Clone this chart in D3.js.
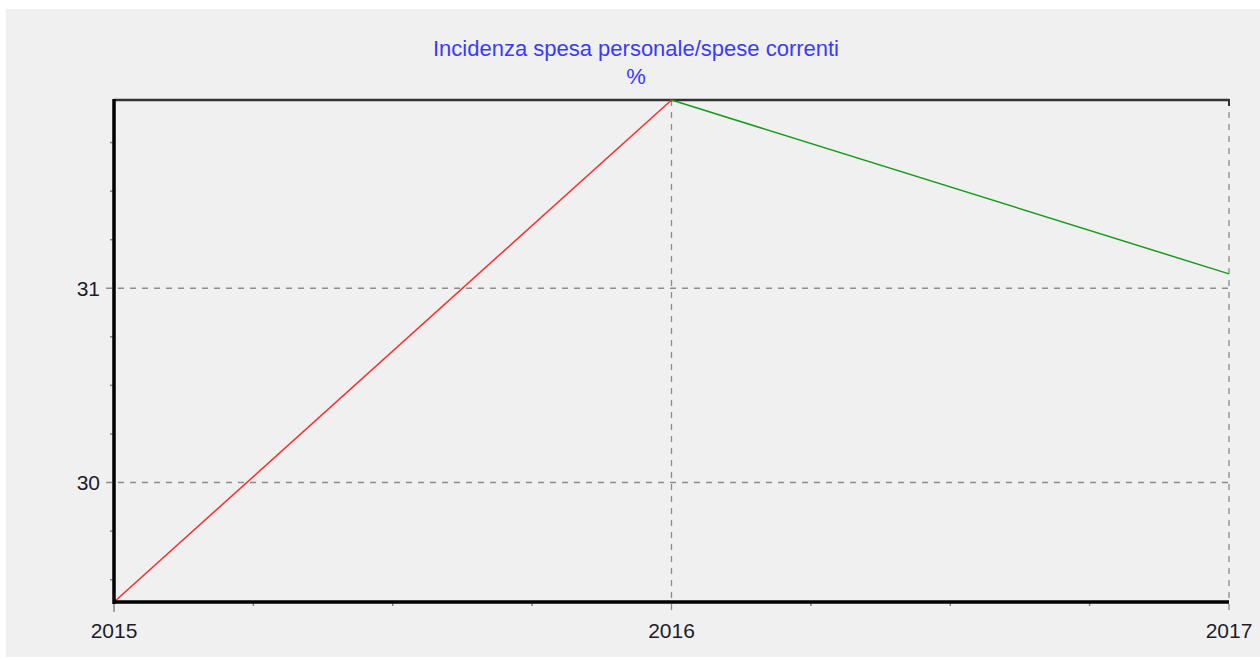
<!DOCTYPE html>
<html>
<head>
<meta charset="utf-8">
<script src="https://cdn.jsdelivr.net/npm/d3@7"></script>
<style>
  body { margin: 0; background: #fff; }
  svg { display: block; font-family: "Liberation Sans", Arial, sans-serif; }
</style>
</head>
<body>
<div class="canvas"></div>
<script>
// data
const years = [2015, 2016, 2017]
const values = [29.385, 31.969, 31.074]
const yTicks = [30, 31]
const titleLines = ['Incidenza spesa personale/spese correnti', '%']

// 1 - dimensions
const dims = { width: 1260, height: 659 }
const plot = { left: 114, right: 1229, top: 100, bottom: 602 }

const svg = d3.select('.canvas')
    .append('svg')
    .attr('width', dims.width)
    .attr('height', dims.height)

// gray panel
svg.append('rect')
    .attr('x', 6).attr('y', 9)
    .attr('width', dims.width - 6).attr('height', 648)
    .attr('fill', '#f0f0f0')

// 2 - scales
const x = d3.scaleLinear()
    .domain(d3.extent(years))
    .range([plot.left, plot.right])

const y = d3.scaleLinear()
    .domain(d3.extent(values))
    .range([plot.bottom, plot.top])

// 3 - grid lines
const grid = svg.append('g')
    .attr('stroke', '#8c8c8c')
    .attr('stroke-width', 1.3)
    .attr('stroke-dasharray', '6,6')

grid.selectAll('line.h')
    .data(yTicks)
    .enter().append('line')
    .attr('class', 'h')
    .attr('x1', plot.left - 8).attr('x2', plot.right)
    .attr('y1', d => y(d)).attr('y2', d => y(d))

grid.selectAll('line.v')
    .data(years.slice(1))
    .enter().append('line')
    .attr('class', 'v')
    .attr('y1', plot.top).attr('y2', plot.bottom + 10)
    .attr('x1', d => x(d)).attr('x2', d => x(d))

// minor ticks
const minorY = d3.range(Math.ceil(y.domain()[0] * 4), Math.floor(y.domain()[1] * 4) + 1)
    .map(d => d / 4).filter(d => !yTicks.includes(d))
svg.selectAll('line.my')
    .data(minorY)
    .enter().append('line')
    .attr('x1', plot.left - 4).attr('x2', plot.left)
    .attr('y1', d => y(d)).attr('y2', d => y(d))
    .attr('stroke', '#888').attr('stroke-width', 1.5)

const minorX = d3.range(years[0] * 4, years[years.length - 1] * 4 + 1)
    .map(d => d / 4).filter(d => !years.includes(d))
svg.selectAll('line.mx')
    .data(minorX)
    .enter().append('line')
    .attr('x1', d => x(d)).attr('x2', d => x(d))
    .attr('y1', plot.bottom).attr('y2', plot.bottom + 4)
    .attr('stroke', '#888').attr('stroke-width', 1.5)

// first year tick (solid, under the y axis)
svg.append('line')
    .attr('x1', x(years[0])).attr('x2', x(years[0]))
    .attr('y1', plot.bottom).attr('y2', plot.bottom + 10)
    .attr('stroke', '#888').attr('stroke-width', 1.5)

// 4 - frame
svg.append('line')
    .attr('x1', plot.left).attr('x2', plot.right)
    .attr('y1', plot.top).attr('y2', plot.top)
    .attr('stroke', '#333').attr('stroke-width', 2.5)
svg.append('line')
    .attr('x1', plot.right).attr('x2', plot.right)
    .attr('y1', plot.top - 1).attr('y2', plot.top + 6)
    .attr('stroke', '#333').attr('stroke-width', 2)

// 5 - lines, one segment per year step
const colors = ['#ff2a2a', '#179c17']
const segs = d3.pairs(years.map((yr, i) => ({ yr, v: values[i] })))
const line = d3.line().x(d => x(d.yr)).y(d => y(d.v))

svg.selectAll('path.seg')
    .data(segs)
    .enter().append('path')
    .attr('class', 'seg')
    .attr('d', line)
    .attr('fill', 'none')
    .attr('stroke', (d, i) => colors[i])
    .attr('stroke-width', 1.5)

// axes on top
svg.append('line')
    .attr('x1', plot.left).attr('x2', plot.left)
    .attr('y1', plot.top - 1).attr('y2', plot.bottom + 2)
    .attr('stroke', '#000').attr('stroke-width', 3.5)
svg.append('line')
    .attr('x1', plot.left - 1).attr('x2', plot.right)
    .attr('y1', plot.bottom).attr('y2', plot.bottom)
    .attr('stroke', '#000').attr('stroke-width', 3.5)

// 6 - tick labels
svg.selectAll('text.yl')
    .data(yTicks)
    .enter().append('text')
    .attr('x', plot.left - 14)
    .attr('y', d => y(d))
    .attr('dy', '0.36em')
    .attr('text-anchor', 'end')
    .attr('font-size', 21)
    .attr('fill', '#1c1c2c')
    .text(d => d)

svg.selectAll('text.xl')
    .data(years)
    .enter().append('text')
    .attr('x', d => x(d))
    .attr('y', plot.bottom + 36)
    .attr('text-anchor', 'middle')
    .attr('font-size', 21)
    .attr('fill', '#1c1c2c')
    .text(d => d)

// 7 - title
svg.selectAll('text.title')
    .data(titleLines)
    .enter().append('text')
    .attr('x', 636)
    .attr('y', (d, i) => 56 + i * 28)
    .attr('text-anchor', 'middle')
    .attr('font-size', 22)
    .attr('fill', '#3a3aff')
    .text(d => d)
</script>
</body>
</html>
